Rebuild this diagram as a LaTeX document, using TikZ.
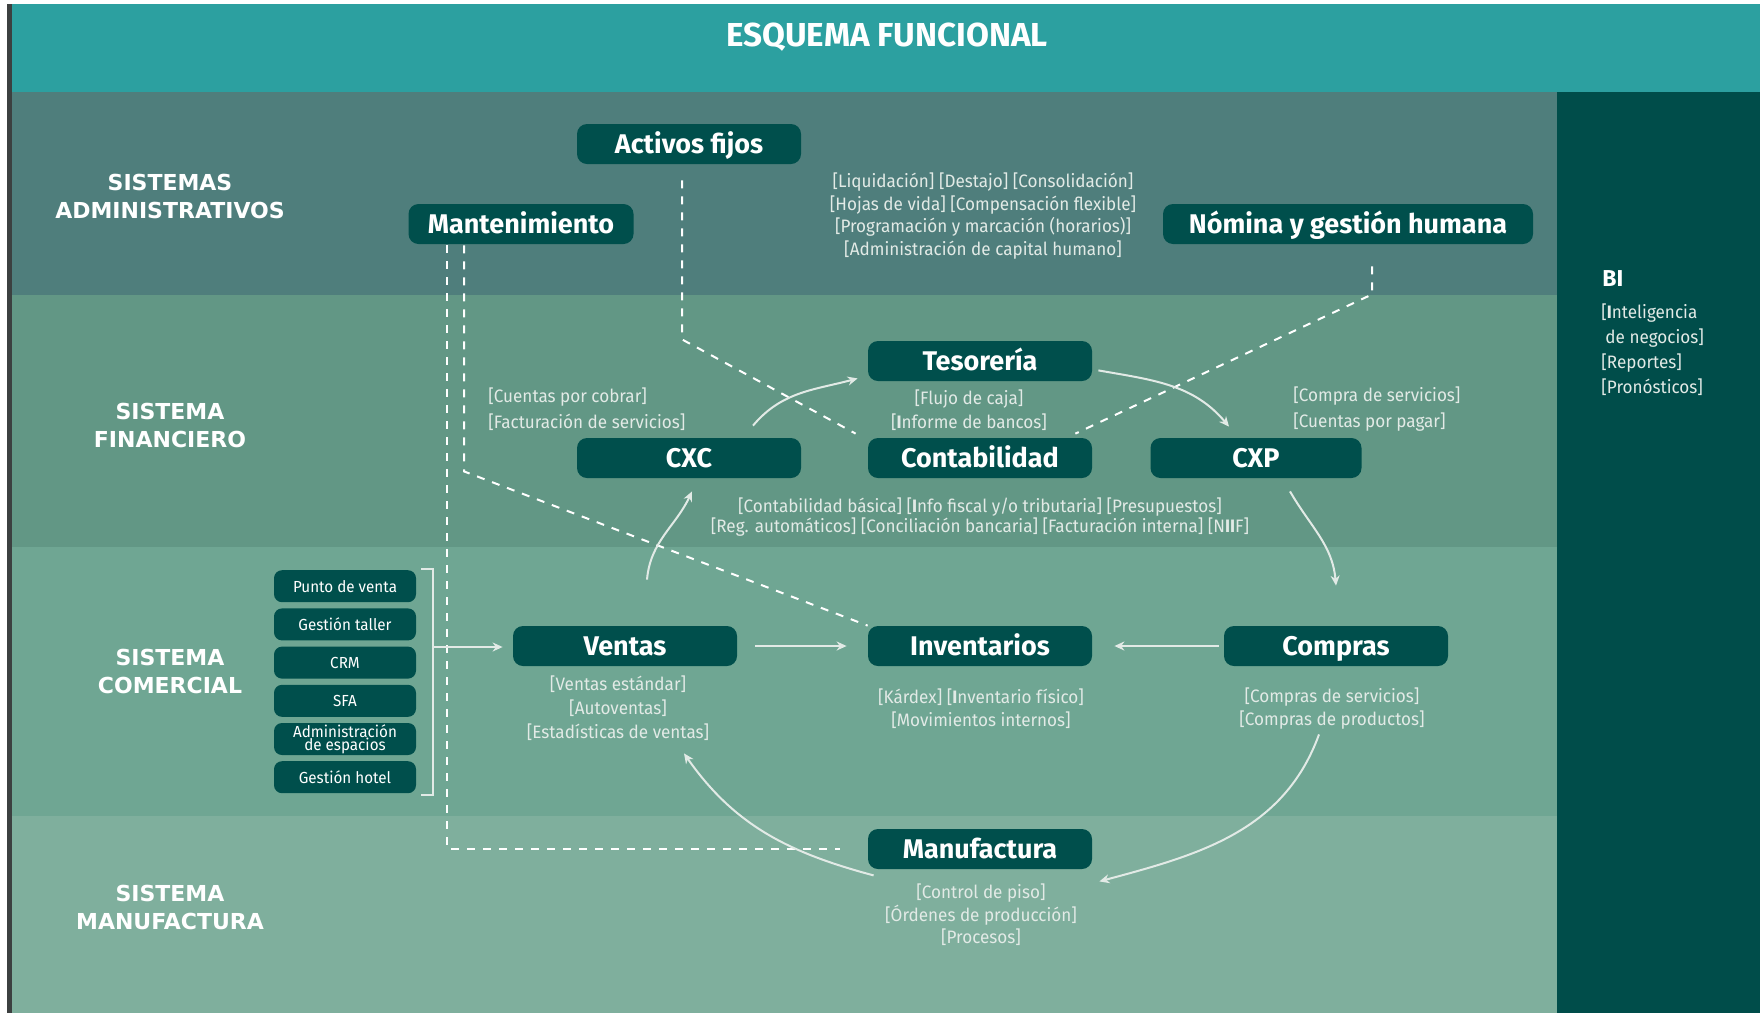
\documentclass[tikz,border=0pt]{standalone}
\usepackage{fontspec}
\setmainfont{Fira Sans}
\newfontfamily\anchafont{DejaVu Sans}
\newfontfamily\notafont[FakeStretch=0.95]{Fira Sans}
\usetikzlibrary{arrows.meta}

\definecolor{cabecera}{RGB}{44,160,160}
\definecolor{franjaadm}{RGB}{79,126,124}
\definecolor{franjafin}{RGB}{98,151,133}
\definecolor{franjacom}{RGB}{111,166,147}
\definecolor{franjaman}{RGB}{127,175,157}
\definecolor{columnabi}{RGB}{0,77,74}
\definecolor{verdemod}{RGB}{0,79,76}
\definecolor{textonota}{RGB}{226,234,230}
\definecolor{borde}{RGB}{60,64,64}

\tikzset{
  modulo/.style={fill=verdemod, rounded corners=5pt, text=white, inner sep=0pt,
    minimum width=112pt, minimum height=20pt, text height=12pt, text depth=2.7pt,
    font=\fontsize{13.5}{16}\selectfont\bfseries},
  submodulo/.style={fill=verdemod, rounded corners=4pt, text=white, inner sep=0pt, align=center,
    minimum width=71pt, minimum height=16pt, font=\notafont\fontsize{8}{6.5}\selectfont},
  nota/.style={text=textonota, inner sep=0pt, align=center, font=\notafont\fontsize{9}{#1}\selectfont},
  nota/.default=11,
  sistema/.style={text=white, inner sep=0pt, align=center, font=\anchafont\bfseries\fontsize{11}{14}\selectfont},
  flujo/.style={draw=textonota, line width=1pt, -{Stealth[length=5pt,width=4.5pt]}},
  enlace/.style={draw=white, line width=1pt, dash pattern=on 4pt off 4pt},
}

\begin{document}
\begin{tikzpicture}[x=0.5pt,y=-0.5pt]
    % franjas de fondo
    \fill [white] (0,0) rectangle (1760,1013);
    \useasboundingbox (0,0) rectangle (1760,1013);
    \fill [borde] (7,4) rectangle (11.5,1013);
    \fill [cabecera] (11.5,4) rectangle (1760,92);
    \fill [franjaadm] (11.5,92) rectangle (1557,295);
    \fill [franjafin] (11.5,295) rectangle (1557,547);
    \fill [franjacom] (11.5,547) rectangle (1557,816);
    \fill [franjaman] (11.5,816) rectangle (1557,1013);
    \fill [columnabi] (1557,92) rectangle (1760,1013);
    \node [text=white, font=\fontsize{16.6}{18}\selectfont\bfseries] (titulo) at (887,37) {ESQUEMA FUNCIONAL};

    % sistemas
    \node [sistema] (adm) at (170,196) {SISTEMAS\\ADMINISTRATIVOS};
    \node [sistema] (fin) at (170,425) {SISTEMA\\FINANCIERO};
    \node [sistema] (com) at (170,671) {SISTEMA\\COMERCIAL};
    \node [sistema] (man) at (170,907) {SISTEMA\\MANUFACTURA};

    % modulos
    \node [modulo] (activos) at (689,144) {Activos fijos};
    \node [modulo, minimum width=112.5pt] (mant) at (521,224) {Mantenimiento};
    \node [modulo, minimum width=185pt] (nomina) at (1348,224) {Nómina y gestión humana};
    \node [modulo] (teso) at (980,361) {Tesorería};
    \node [modulo] (cxc) at (689,458) {CXC};
    \node [modulo] (conta) at (980,458) {Contabilidad};
    \node [modulo, minimum width=105.5pt] (cxp) at (1256,458) {CXP};
    \node [modulo] (ventas) at (625,646) {Ventas};
    \node [modulo] (inv) at (980,646) {Inventarios};
    \node [modulo] (compras) at (1336,646) {Compras};
    \node [modulo] (manuf) at (980,849) {Manufactura};

    \foreach \txt [count=\i] in {Punto de venta, Gestión taller, CRM, SFA, {Administración\\de espacios}, Gestión hotel}
        \node [submodulo] (sub\i) at (345,548+38.2*\i) {\txt};

    % notas
    \node [nota=11.2] (notanomina) at (983,216) {[Liquidación] [Destajo] [Consolidación]\\{}[Hojas de vida] [Compensación flexible]\\{}[Programación y marcación (horarios)]\\{}[Administración de capital humano]};
    \node [nota=13, align=left, anchor=west] (notacxc) at (488,409) {[Cuentas por cobrar]\\{}[Facturación de servicios]};
    \node [nota=12] (notateso) at (969,410) {[Flujo de caja]\\{}[\textbf{I}nforme de bancos]};
    \node [nota=13, align=left, anchor=west] (notacxp) at (1293,409) {[Compra de servicios]\\{}[Cuentas por pagar]};
    \node [nota=9.8] (notaconta) at (980,517) {[Contabilidad básica] [\textbf{I}nfo fiscal y/o tributaria] [Presupuestos]\\{}[Reg. automáticos] [Conciliación bancaria] [Facturación interna] [N\textbf{II}F]};
    \node [nota=12] (notaventas) at (618,708) {[Ventas estándar]\\{}[Autoventas]\\{}[Estadísticas de ventas]};
    \node [nota=11.5] (notainv) at (981,709) {[Kárdex] [\textbf{I}nventario físico]\\{}[Movimientos internos]};
    \node [nota=11.5] (notacompras) at (1332,709) {[Compras de servicios]\\{}[Compras de productos]};
    \node [nota=11.25] (notamanuf) at (981,915) {[Control de piso]\\{}[Órdenes de producción]\\{}[Procesos]};
    \node [text=white, inner sep=0pt, anchor=west, font=\fontsize{11.5}{12}\selectfont\bfseries] (bi) at (1602,279) {BI};
    \node [nota=12.5, align=left, anchor=west] (notabi) at (1601,350) {[\textbf{I}nteligencia\\\hspace*{2pt}de negocios]\\{}[Reportes]\\{}[Pronósticos]};

    % enlaces punteados
    \draw [enlace] ([shift={(-7,16)}]activos.south) -- ++(0,159) -- ([shift={(-12,-4)}]conta.north west);
    \draw [enlace] ([shift={(24,22)}]nomina.south) -- ++(0,28) -- ([shift={(-17,-4)}]conta.north east);
    \draw [enlace] ([shift={(-57,1)}]mant.south) -- ++(0,226) -- (inv.north west);
    \draw [enlace] ([shift={(-74,1)}]mant.south) |- ([xshift=-14pt]manuf.west);

    % llave de submodulos
    \coordinate (llave) at (433,647);
    \draw [textonota, line width=1pt] (421,569) -- (433,569) -- (433,795) -- (421,795);
    \draw [flujo, shorten >=5pt] (llave) -- (llave -| ventas.west);

    % flujos
    \draw [flujo] ([xshift=32pt,yshift=6pt]cxc.north) to[out=50,in=195] ([shift={(-10,-3)}]teso.south west);
    \draw [flujo] ([shift={(6,-11)}]teso.south east) to[out=-10,in=130] ([shift={(-27,-11)}]cxp.north);
    \draw [flujo] ([shift={(34,13)}]cxp.south) to[out=-60,in=95] ([yshift=20pt]compras.north);
    \draw [flujo] ([shift={(-17,68)}]compras.south) to[out=-110,in=15] ([shift={(7,12)}]manuf.south east);
    \draw [flujo] ([shift={(6,6)}]manuf.south west) to[out=165,in=-55] ([shift={(59,87)}]ventas.south);
    \draw [flujo] ([shift={(22,-46)}]ventas.north) to[out=85,in=-115] ([shift={(3,13)}]cxc.south);
    \draw [flujo, shorten <=9pt, shorten >=10.5pt] (ventas) -- (inv);
    \draw [flujo, shorten <=2.5pt, shorten >=11pt] (compras) -- (inv);
\end{tikzpicture}
\end{document}
